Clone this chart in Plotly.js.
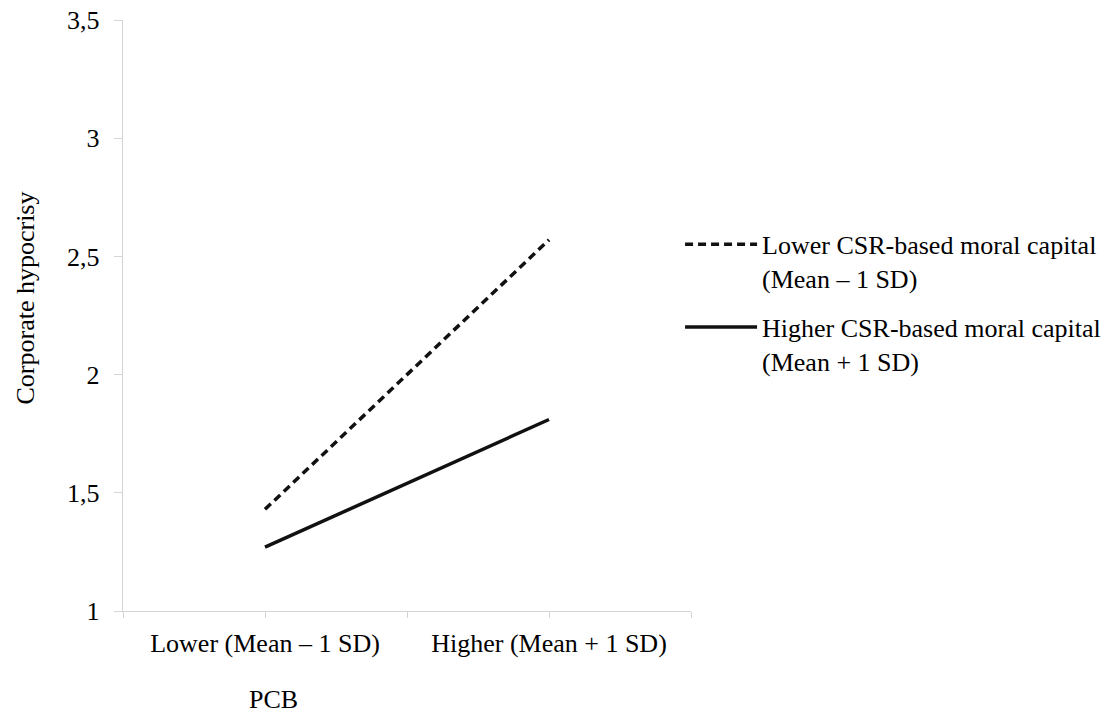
<!DOCTYPE html>
<html>
<head>
<meta charset="utf-8">
<script src="https://cdn.plot.ly/plotly-3.0.1.min.js"></script>
<style>html,body{margin:0;padding:0;background:#fff;}#chart{width:1118px;height:713px;}</style>
</head>
<body>
<div id="chart"></div>
<script>
var categories = ['Lower (Mean \u2013 1 SD)', 'Higher (Mean + 1 SD)'];
var seriesNames = ['Lower CSR-based moral capital<br>(Mean \u2013 1 SD)', 'Higher CSR-based moral capital<br>(Mean + 1 SD)'];
var lowerCSR = [1.43, 2.57];
var higherCSR = [1.27, 1.81];
var yTickVals = [1, 1.5, 2, 2.5, 3, 3.5];
var yTickText = ['1', '1,5', '2', '2,5', '3', '3,5'];
var xTitle = 'PCB';
var yTitle = 'Corporate hypocrisy';

var xIdx = categories.map(function(c, i){ return i; });
var font = 'Liberation Serif, Times New Roman, serif';
var fs = 26;

var traces = [
  {x: xIdx, y: lowerCSR, name: seriesNames[0], mode: 'lines', type: 'scatter',
   line: {color: '#111', width: 3.5, dash: '8px,5px'}, legendgroup: 'a', hoverinfo: 'skip'},
  {x: xIdx, y: higherCSR, name: seriesNames[1], mode: 'lines', type: 'scatter',
   line: {color: '#111', width: 3.5}, legendgroup: 'b', hoverinfo: 'skip'}
];

var xTickVals = [-0.5, 0, 0.5, 1, 1.5];
var xTickText = ['', categories[0], '', categories[1], ''];

var L = 123, R = 694, T = 20, B = 611;
function px2paperX(p){ return (p - L) / (R - L); }
function px2paperY(p){ return (B - p) / (B - T); }

var layout = {
  width: 1118, height: 713,
  margin: {l: L, r: 1118 - R, t: T, b: 713 - B},
  paper_bgcolor: '#fff', plot_bgcolor: '#fff',
  font: {family: font, size: fs, color: '#000'},
  showlegend: true,
  legend: {x: px2paperX(683), xanchor: 'left', y: 0.66, yanchor: 'top', valign: 'top',
           font: {family: font, size: fs, color: '#000'},
           traceorder: 'grouped', tracegroupgap: 12, itemwidth: 72, bgcolor: 'rgba(0,0,0,0)'},
  xaxis: {range: [-0.5, 1.5], tickvals: xTickVals, ticktext: xTickText, showgrid: false, zeroline: false,
          showline: true, linecolor: '#d4d4d4', linewidth: 1.3, ticks: 'outside', ticklen: 6, tickcolor: '#d4d4d4',
          ticklabelstandoff: 2, tickfont: {family: font, size: fs, color: '#000'}, fixedrange: true},
  yaxis: {range: [1, 3.5], tickvals: yTickVals, ticktext: yTickText, showgrid: false, zeroline: false,
          showline: true, linecolor: '#d4d4d4', linewidth: 1.3, ticks: 'outside', ticklen: 8, tickcolor: '#d4d4d4',
          ticklabelstandoff: 9, tickfont: {family: font, size: fs, color: '#000'}, fixedrange: true},
  annotations: [
    {text: xTitle, xref: 'paper', yref: 'paper', x: px2paperX(274), y: px2paperY(699), xanchor: 'center', yanchor: 'middle',
     showarrow: false, font: {family: font, size: fs, color: '#000'}},
    {text: yTitle, xref: 'paper', yref: 'paper', x: px2paperX(24), y: px2paperY(298), xanchor: 'center', yanchor: 'middle',
     textangle: -90, showarrow: false, font: {family: font, size: fs, color: '#000'}}
  ]
};

Plotly.newPlot('chart', traces, layout, {staticPlot: true, displayModeBar: false});
</script>
</body>
</html>
